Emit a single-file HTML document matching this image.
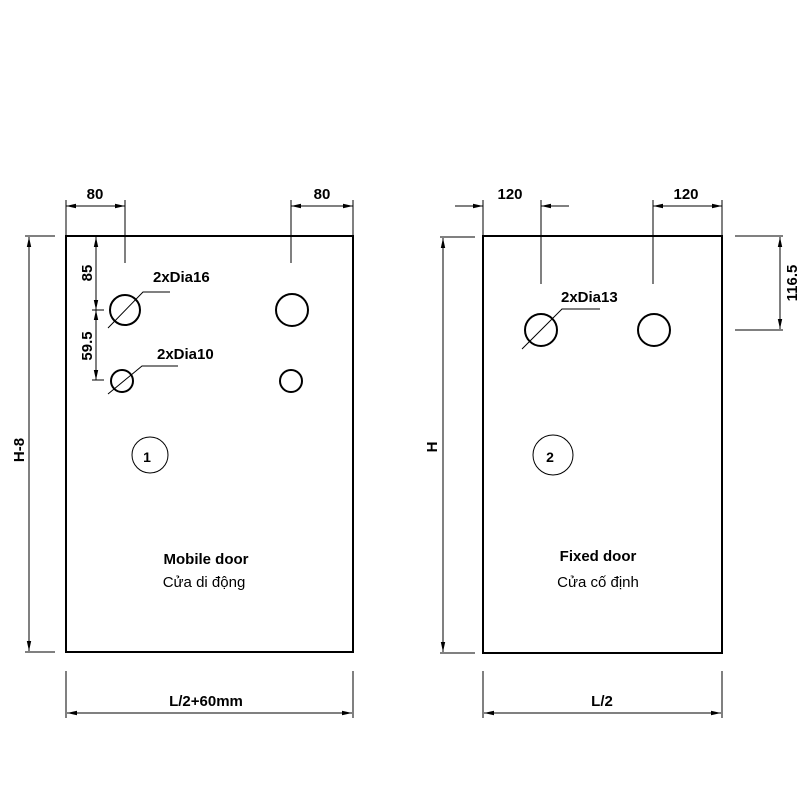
<!DOCTYPE html>
<html><head><meta charset="utf-8"><style>html,body{margin:0;padding:0;background:#fff}svg{display:block}text{font-family:"Liberation Sans",sans-serif;fill:#000}</style></head>
<body>
<svg width="800" height="800" viewBox="0 0 800 800" xmlns="http://www.w3.org/2000/svg">
<defs>
<marker id="a" viewBox="0 0 10 6" refX="10" refY="3" markerWidth="10" markerHeight="6" orient="auto-start-reverse" markerUnits="userSpaceOnUse"><path d="M0,0.8 L10,3 L0,5.2 z" fill="#000"/></marker>
</defs>
<g stroke="#000" fill="none">
<!-- rectangles -->
<rect x="66" y="236" width="287" height="416" stroke-width="2"/>
<rect x="483" y="236" width="239" height="417" stroke-width="2"/>
<!-- holes left -->
<circle cx="125" cy="310" r="15" stroke-width="2"/>
<circle cx="292" cy="310" r="16" stroke-width="2"/>
<circle cx="122" cy="381" r="11" stroke-width="2"/>
<circle cx="291" cy="381" r="11" stroke-width="2"/>
<!-- holes right -->
<circle cx="541" cy="330" r="16" stroke-width="2"/>
<circle cx="654" cy="330" r="16" stroke-width="2"/>
<!-- markers -->
<circle cx="150" cy="455" r="18" stroke-width="1"/>
<circle cx="553" cy="455" r="20" stroke-width="1"/>
<g stroke-width="1">
<!-- left top dims -->
<line x1="66" y1="200" x2="66" y2="236"/>
<line x1="125" y1="200" x2="125" y2="263"/>
<line x1="66" y1="206" x2="125" y2="206" marker-start="url(#a)" marker-end="url(#a)"/>
<line x1="291" y1="200" x2="291" y2="263"/>
<line x1="353" y1="200" x2="353" y2="236"/>
<line x1="291" y1="206" x2="353" y2="206" marker-start="url(#a)" marker-end="url(#a)"/>
<!-- 85 / 59.5 -->
<line x1="96" y1="237" x2="96" y2="310" marker-start="url(#a)" marker-end="url(#a)"/>
<line x1="96" y1="310" x2="96" y2="380" marker-start="url(#a)" marker-end="url(#a)"/>
<line x1="92" y1="310" x2="104" y2="310"/>
<line x1="92" y1="380" x2="104" y2="380"/>
<!-- leaders -->
<polyline points="108,328 143,292 170,292"/>
<polyline points="108,394 142,366 178,366"/>
<polyline points="522,349 562,309 600,309"/>
<!-- H-8 -->
<line x1="25" y1="236" x2="55" y2="236"/>
<line x1="25" y1="652" x2="55" y2="652"/>
<line x1="29" y1="237" x2="29" y2="651" marker-start="url(#a)" marker-end="url(#a)"/>
<!-- bottom left -->
<line x1="66" y1="671" x2="66" y2="718"/>
<line x1="353" y1="671" x2="353" y2="718"/>
<line x1="67" y1="713" x2="352" y2="713" marker-start="url(#a)" marker-end="url(#a)"/>
<!-- right top dims -->
<line x1="483" y1="200" x2="483" y2="236"/>
<line x1="455" y1="206" x2="483" y2="206" marker-end="url(#a)"/>
<line x1="541" y1="200" x2="541" y2="284"/>
<line x1="569" y1="206" x2="541" y2="206" marker-end="url(#a)"/>
<line x1="653" y1="200" x2="653" y2="284"/>
<line x1="722" y1="200" x2="722" y2="236"/>
<line x1="653" y1="206" x2="722" y2="206" marker-start="url(#a)" marker-end="url(#a)"/>
<!-- 116.5 -->
<line x1="735" y1="236" x2="783" y2="236"/>
<line x1="735" y1="330" x2="783" y2="330"/>
<line x1="780" y1="237" x2="780" y2="329" marker-start="url(#a)" marker-end="url(#a)"/>
<!-- H -->
<line x1="440" y1="237" x2="475" y2="237"/>
<line x1="440" y1="653" x2="475" y2="653"/>
<line x1="443" y1="238" x2="443" y2="652" marker-start="url(#a)" marker-end="url(#a)"/>
<!-- bottom right -->
<line x1="483" y1="671" x2="483" y2="718"/>
<line x1="722" y1="671" x2="722" y2="718"/>
<line x1="484" y1="713" x2="721" y2="713" marker-start="url(#a)" marker-end="url(#a)"/>
</g>
</g>
<g font-size="15" font-weight="bold">
<text x="95" y="199" text-anchor="middle">80</text>
<text x="322" y="199" text-anchor="middle">80</text>
<text x="510" y="199" text-anchor="middle">120</text>
<text x="686" y="199" text-anchor="middle">120</text>
<text x="153" y="282">2xDia16</text>
<text x="157" y="359">2xDia10</text>
<text x="561" y="302">2xDia13</text>
<text transform="translate(92,273) rotate(-90)" text-anchor="middle">85</text>
<text transform="translate(92,346) rotate(-90)" text-anchor="middle">59.5</text>
<text transform="translate(797,283) rotate(-90)" text-anchor="middle">116.5</text>
<text transform="translate(24,450) rotate(-90)" text-anchor="middle">H-8</text>
<text transform="translate(437,447) rotate(-90)" text-anchor="middle">H</text>
<text x="206" y="706" text-anchor="middle">L/2+60mm</text>
<text x="602" y="706" text-anchor="middle">L/2</text>
<text x="206" y="564" text-anchor="middle">Mobile door</text>
<text x="598" y="561" text-anchor="middle">Fixed door</text>
<text x="147" y="462" text-anchor="middle" font-size="14">1</text>
<text x="550" y="462" text-anchor="middle" font-size="14">2</text>
</g>
<g font-size="15">
<text x="204" y="587" text-anchor="middle">Cửa di động</text>
<text x="598" y="587" text-anchor="middle">Cửa cố định</text>
</g>
</svg>
</body></html>
